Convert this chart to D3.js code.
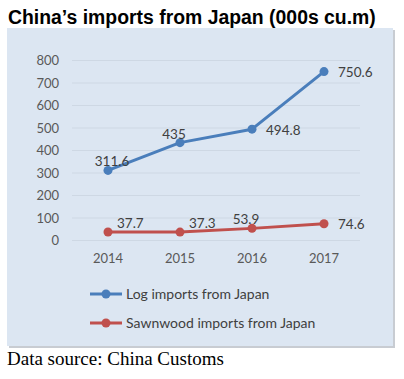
<!DOCTYPE html>
<html>
<head>
<meta charset="utf-8">
<script src="https://cdn.jsdelivr.net/npm/d3@7"></script>
<style>
  body { margin: 0; background: #fff; }
</style>
</head>
<body>
<div id="chart"></div>
<script>
let width = 404;
let height = 379;

// data
let years = ["2014", "2015", "2016", "2017"];
let logImports = [311.6, 435, 494.8, 750.6];
let sawnImports = [37.7, 37.3, 53.9, 74.6];
let yTicks = [0, 100, 200, 300, 400, 500, 600, 700, 800];
let seriesNames = ["Log imports from Japan", "Sawnwood imports from Japan"];
let seriesColors = ["#4a7ebb", "#c0504d"];
// where each value label sits relative to its point
let logLabelPos = ["above", "above", "right", "right"];
let sawnLabelPos = ["aboveRight", "aboveRight", "above", "right"];

let axisFont = "Lato, 'Open Sans', sans-serif";

let svg = d3.select("#chart")
    .append("svg")
    .attr("width", width)
    .attr("height", height);

// title
svg.append("text")
    .attr("x", 8)
    .attr("y", 23.5)
    .attr("font-family", "Liberation Sans, Arial, sans-serif")
    .attr("font-weight", "bold")
    .attr("font-size", 19.4)
    .attr("fill", "#000")
    .text("China\u2019s imports from Japan (000s cu.m)");

// panel
svg.append("rect")
    .attr("x", 9)
    .attr("y", 30)
    .attr("width", 386)
    .attr("height", 318)
    .attr("fill", "#c8ccd2");
svg.append("rect")
    .attr("x", 7)
    .attr("y", 28)
    .attr("width", 386)
    .attr("height", 318)
    .attr("fill", "#dce6f2");

let x = d3.scaleBand()
    .domain(years)
    .range([72, 360]);

let y = d3.scaleLinear()
    .domain([0, 800])
    .range([240.5, 60.5]);

// gridlines
svg.append("g")
    .selectAll("line")
    .data(yTicks)
    .join("line")
    .attr("x1", 72)
    .attr("x2", 360)
    .attr("y1", d => y(d))
    .attr("y2", d => y(d))
    .attr("stroke", "#ced8e4")
    .attr("stroke-width", 1);

// y axis labels
let yAxis = d3.axisLeft(y).tickValues(yTicks).tickSize(0).tickPadding(0);
let yg = svg.append("g")
    .attr("transform", "translate(59,0)")
    .call(yAxis);
yg.select(".domain").remove();
yg.selectAll("text")
    .attr("font-family", axisFont)
    .attr("font-size", 13)
    .attr("fill", "#595959");

// x axis labels
let xAxis = d3.axisBottom(x).tickSize(0).tickPadding(0);
let xg = svg.append("g")
    .attr("transform", "translate(0,254)")
    .call(xAxis);
xg.select(".domain").remove();
xg.selectAll("text")
    .attr("font-family", axisFont)
    .attr("font-size", 13)
    .attr("fill", "#595959");

let cx = d => x(d) + x.bandwidth() / 2;

function drawSeries(values, color, positions) {
    let line = d3.line()
        .x((d, i) => cx(years[i]))
        .y(d => y(d));
    svg.append("path")
        .datum(values)
        .attr("d", line)
        .attr("fill", "none")
        .attr("stroke", color)
        .attr("stroke-width", 3)
        .attr("stroke-linejoin", "round");
    svg.append("g")
        .selectAll("circle")
        .data(values)
        .join("circle")
        .attr("cx", (d, i) => cx(years[i]))
        .attr("cy", d => y(d))
        .attr("r", 4.5)
        .attr("fill", color);
    svg.append("g")
        .selectAll("text")
        .data(values)
        .join("text")
        .attr("x", (d, i) => {
            let p = positions[i];
            if (p == "right") return cx(years[i]) + 14;
            if (p == "aboveRight") return cx(years[i]) + 9;
            return cx(years[i]) + (i == 0 ? 4 : -6);
        })
        .attr("y", (d, i) => {
            let p = positions[i];
            if (p == "right") return y(d) + 5.5;
            return y(d) - 4;
        })
        .attr("text-anchor", (d, i) => positions[i] == "above" ? "middle" : "start")
        .attr("font-family", axisFont)
        .attr("font-size", 13.5)
        .attr("fill", "#404040")
        .text(d => d);
}

drawSeries(logImports, seriesColors[0], logLabelPos);
drawSeries(sawnImports, seriesColors[1], sawnLabelPos);

// legend
let legend = svg.append("g")
    .selectAll("g")
    .data(seriesNames)
    .join("g")
    .attr("transform", (d, i) => "translate(90," + (294 + i * 29) + ")");
legend.append("line")
    .attr("x1", 0)
    .attr("x2", 32)
    .attr("stroke", (d, i) => seriesColors[i])
    .attr("stroke-width", 3);
legend.append("circle")
    .attr("cx", 16)
    .attr("r", 4.5)
    .attr("fill", (d, i) => seriesColors[i]);
legend.append("text")
    .attr("x", 36)
    .attr("y", 5)
    .attr("font-family", axisFont)
    .attr("font-size", 14)
    .attr("fill", "#404040")
    .text(d => d);

// source
svg.append("text")
    .attr("x", 7)
    .attr("y", 365)
    .attr("font-family", "Liberation Serif, 'Times New Roman', serif")
    .attr("font-size", 19)
    .attr("fill", "#000")
    .text("Data source: China Customs");
</script>
</body>
</html>
